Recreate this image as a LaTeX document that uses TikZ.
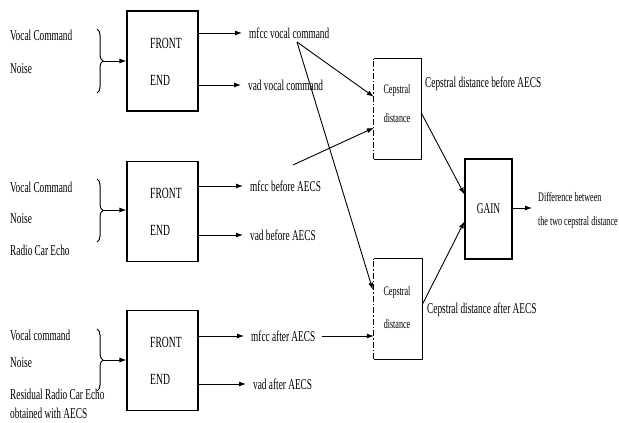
\documentclass[tikz,border=0pt]{standalone}
\usepackage{fontspec}
\setmainfont[FakeStretch=0.62]{Liberation Serif}
\usetikzlibrary{arrows.meta,decorations.pathreplacing,calc}
\begin{document}
\begin{tikzpicture}[x=1pt,y=-1pt,
  lbl/.style={anchor=west,inner sep=0pt,font=\fontsize{15}{15}\selectfont},
  sml/.style={inner sep=0pt,font=\fontsize{13}{13}\selectfont},
  fe/.style={draw,line width=1.1pt,minimum width=71pt,minimum height=100pt,inner sep=0pt},
  blk/.style={minimum width=47pt,minimum height=100pt,inner sep=0pt},
  arr/.style={line width=0.9pt,-{Latex[length=7pt,width=5pt]}},
  brc/.style={line width=1pt,decorate,decoration={brace,amplitude=6pt}}]
\useasboundingbox (0,0) rectangle (619,423);
% inputs
\node[lbl] (i1a) at (10,35) {Vocal Command};
\node[lbl] (i1b) at (10,69) {Noise};
\node[lbl] (i2a) at (10,187) {Vocal Command};
\node[lbl] (i2b) at (10,219) {Noise};
\node[lbl] (i2c) at (10,250) {Radio Car Echo};
\node[lbl] (i3a) at (10,335) {Vocal command};
\node[lbl] (i3b) at (10,363) {Noise};
\node[lbl] (i3c) at (10,394) {Residual Radio Car Echo};
\node[lbl] (i3d) at (10,413) {obtained with AECS};
% braces
\draw[brc] (97,29) -- (97,93);
\draw[brc] (97,179) -- (97,242);
\draw[brc] (97,329) -- (97,391);
\coordinate (b1) at (103,61);
\coordinate (b2) at (103,210);
\coordinate (b3) at (103,360);
% front ends
\node[fe] (fe1) at (162.5,61) {};
\node[fe] (fe2) at (162.5,211.5) {};
\node[fe] (fe3) at (162.5,360.5) {};
\foreach \n/\y in {1/61,2/211.5,3/360.5}{
  \node[lbl,font=\fontsize{15.5}{15.5}\selectfont] (fr\n) at (150,\y-18) {FRONT};
  \node[lbl,font=\fontsize{15.5}{15.5}\selectfont] (en\n) at (150,\y+19) {END};
}
\draw[arr] (b1) -- (fe1.west |- b1);
\draw[arr] (b2) -- (fe2.west |- b2);
\draw[arr] (b3) -- (fe3.west |- b3);
% outputs
\node[lbl] (m1) at (249,33) {mfcc vocal command};
\node[lbl] (v1) at (248,85) {vad vocal command};
\node[lbl] (m2) at (250,186) {mfcc before AECS};
\node[lbl] (v2) at (250,235) {vad before AECS};
\node[lbl] (m3) at (251,336) {mfcc after AECS};
\node[lbl] (v3) at (253,384) {vad after AECS};
\foreach \f/\o in {fe1/m1,fe1/v1,fe2/m2,fe2/v2,fe3/m3,fe3/v3}{
  \draw[arr,shorten >=7pt] (\f.east |- \o.west) -- (\o.west);
}
% cepstral boxes
\node[blk] (c1) at (397.5,109) {};
\node[blk,minimum width=48pt] (c2) at (398,309) {};
\foreach \c in {c1,c2}{
  \draw[line width=1.1pt] (\c.north west) -- (\c.north east) -- (\c.south east) -- (\c.south west);
  \draw[line width=1pt,dash pattern=on 6pt off 2pt on 1.5pt off 2pt] (\c.south west) -- (\c.north west);
}
\node[sml] (c1t) at (397,90) {Cepstral};
\node[sml] (c1d) at (397,118) {distance};
\node[sml] (c2t) at (397,292) {Cepstral};
\node[sml] (c2d) at (397,324) {distance};
% gain
\node[blk,draw,line width=1.1pt,font=\fontsize{15}{15}\selectfont] (g) at (488.5,209) {GAIN};
% right labels
\node[lbl] (cb) at (425,84) {Cepstral distance before AECS};
\node[lbl] (ca) at (427,310) {Cepstral distance after AECS};
\node[sml,anchor=west] (d1) at (538,197) {Difference between};
\node[sml,anchor=west] (d2) at (538,222) {the two cepstral distance};
\coordinate (dx) at (532,208);
% connectors
\coordinate (mv) at (297,42);
\coordinate (mb) at (293,165);
\draw[arr] (mv) -- ($(c1.north west)+(0,38)$);
\draw[arr] (mv) -- ($(c2.north west)+(-1,31)$);
\draw[arr] (mb) -- ($(c1.north west)+(0,69)$);
\draw[arr] ($(m3.east)+(7,0)$) -- (c2.west |- m3);
\draw[arr] ($(c1.north east)+(0,54)$) -- ($(g.north west)+(0,36)$);
\draw[arr] ($(c2.north east)+(0,46)$) -- ($(g.north west)+(0,63)$);
\draw[arr] (g.east |- dx) -- (dx);
\end{tikzpicture}
\end{document}
